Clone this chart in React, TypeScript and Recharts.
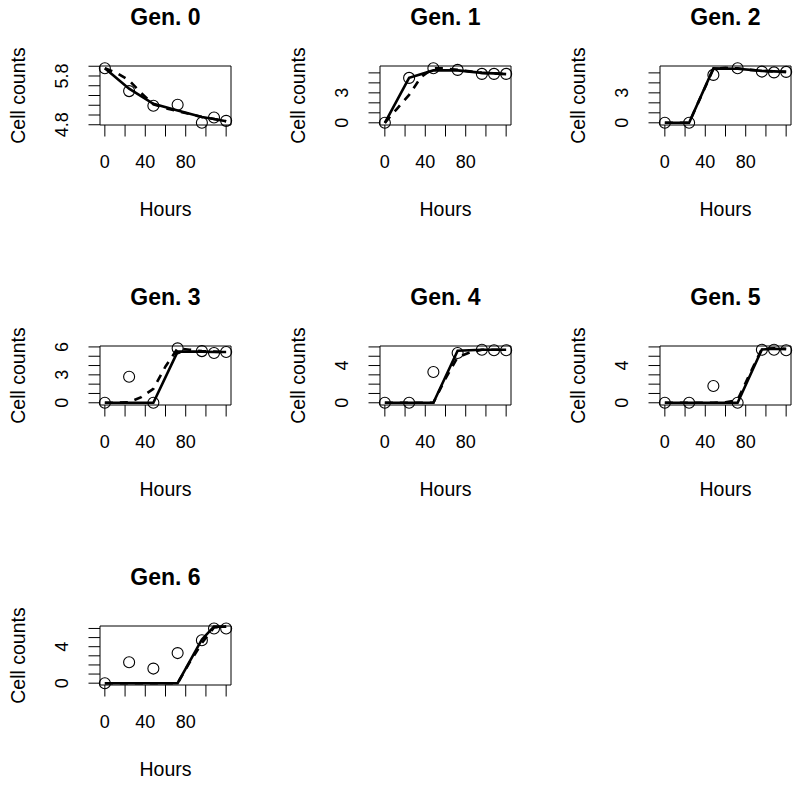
import { ComposedChart, Line, Scatter, XAxis, YAxis, ReferenceArea } from 'recharts'

// sampling times (hours)
const HOURS = [0, 24, 48, 72, 96, 108, 120]
const SIM_HOURS = [0, 12, 24, 36, 48, 60, 72, 84, 96, 108, 120]

const X_TICKS = [0, 20, 40, 60, 80, 100, 120]
const X_LABELS = [0, 40, 80]

const TITLES = ['Gen. 0', 'Gen. 1', 'Gen. 2', 'Gen. 3', 'Gen. 4', 'Gen. 5', 'Gen. 6']

// observed counts (circles), model (solid) and simulation (dashed)
const GEN0_OBS = [5.96, 5.49, 5.19, 5.21, 4.84, 4.95, 4.88]
const GEN0_MODEL = [5.96, 5.54, 5.23, 5.09, 4.96, 4.92, 4.87]
const GEN0_SIM = [5.96, 5.86, 5.71, 5.45, 5.22, 5.14, 5.08, 5.02, 4.96, 4.92, 4.87]

const GEN1_OBS = [0, 4.5, 5.47, 5.3, 4.9, 4.9, 4.9]
const GEN1_MODEL = [0, 4.5, 5.25, 5.25, 5.0, 4.95, 4.88]
const GEN1_SIM = [0, 1.4, 2.8, 4.6, 5.45, 5.45, 5.3, 5.15, 5.0, 4.95, 4.88]

const GEN2_OBS = [0, 0, 4.8, 5.47, 5.13, 5.05, 5.1]
const GEN2_MODEL = [0, 0, 5.45, 5.42, 5.2, 5.15, 5.1]
const GEN2_SIM = [0, 0, 0, 2.7, 5.4, 5.5, 5.45, 5.3, 5.2, 5.15, 5.1]

const GEN3_OBS = [0, 2.8, 0, 5.85, 5.55, 5.35, 5.45]
const GEN3_MODEL = [0, 0, 0, 5.5, 5.5, 5.45, 5.45]
const GEN3_SIM = [0, 0, 0.05, 0.6, 1.5, 3.9, 5.85, 5.7, 5.55, 5.5, 5.45]

const GEN4_OBS = [0, 0, 3.3, 5.35, 5.7, 5.65, 5.65]
const GEN4_MODEL = [0, 0, 0, 5.6, 5.7, 5.7, 5.7]
const GEN4_SIM = [0, 0, 0, 0, 0, 2.6, 4.9, 5.4, 5.7, 5.7, 5.7]

const GEN5_OBS = [0, 0, 1.8, 0, 5.7, 5.7, 5.65]
const GEN5_MODEL = [0, 0, 0, 0, 5.72, 5.8, 5.75]
const GEN5_SIM = [0, 0, 0, 0, 0, 0.05, 0.3, 3.1, 5.8, 5.85, 5.8]

const GEN6_OBS = [0, 2.3, 1.6, 3.3, 4.7, 6.0, 6.0]
const GEN6_MODEL = [0, 0, 0, 0, 4.8, 6.2, 6.2]
const GEN6_SIM = [0, 0, 0, 0, 0, 0, 0, 2.3, 4.4, 6.1, 6.2]

// y axes
const Y_TICKS_GEN0 = [4.8, 5.0, 5.2, 5.4, 5.6, 5.8, 6.0]
const Y_LABELS_GEN0 = [4.8, 5.8]
const Y_TICKS_0_5 = [0, 1, 2, 3, 4, 5]
const Y_TICKS_0_6 = [0, 1, 2, 3, 4, 5, 6]
const Y_LABELS_03 = [0, 3]
const Y_LABELS_036 = [0, 3, 6]
const Y_LABELS_04 = [0, 4]

const FONT = '"Liberation Sans", Arial, Helvetica, sans-serif'
const CELL = 280
const BOX_LEFT = 100
const BOX_TOP = 66
const BOX_W = 131
const BOX_H = 59
const Y_AXIS_W = 60
const X_AXIS_H = 60

const toRows = (xs: number[], ys: number[]) => xs.map((h, i) => ({ h, v: ys[i] }))

function XTick(props: any) {
  const { x, y, payload } = props
  if (!X_LABELS.includes(payload.value)) return <g />
  return (
    <text x={x} y={y + 31.5} textAnchor="middle" fontSize={18} fontFamily={FONT} fill="#000">
      {payload.value}
    </text>
  )
}

function renderYTick(props: any, labels: number[], digits: number) {
  const { x, y, payload } = props
  if (!labels.some((l) => Math.abs(l - payload.value) < 1e-6)) return <g />
  const bx = x - 20.5
  return (
    <text
      x={bx}
      y={y}
      transform={`rotate(-90, ${bx}, ${y})`}
      textAnchor="middle"
      fontSize={18}
      fontFamily={FONT}
      fill="#000"
    >
      {payload.value.toFixed(digits)}
    </text>
  )
}

function OpenCircle(props: any) {
  return <circle cx={props.cx} cy={props.cy} r={5.5} fill="none" stroke="#000" strokeWidth={1.1} />
}

interface PanelProps {
  idx: number
  obs: number[]
  model: number[]
  sim: number[]
  yDomain: [number, number]
  yTicks: number[]
  yLabels: number[]
  digits?: number
}

function Panel({ idx, obs, model, sim, yDomain, yTicks, yLabels, digits = 0 }: PanelProps) {
  const left = (idx % 3) * CELL
  const top = Math.floor(idx / 3) * CELL
  const cx = BOX_LEFT + BOX_W / 2
  const cy = BOX_TOP + BOX_H / 2

  return (
    <div style={{ position: 'absolute', left, top, width: CELL, height: CELL }}>
      <ComposedChart
        width={CELL}
        height={CELL}
        margin={{
          top: BOX_TOP,
          left: BOX_LEFT - Y_AXIS_W,
          right: CELL - BOX_LEFT - BOX_W,
          bottom: CELL - BOX_TOP - BOX_H - X_AXIS_H,
        }}
      >
        <XAxis
          type="number"
          dataKey="h"
          domain={[-4.8, 124.8]}
          ticks={X_TICKS}
          interval={0}
          height={X_AXIS_H}
          axisLine={false}
          tickLine={{ stroke: '#000' }}
          tickSize={11.5}
          tickMargin={0}
          tick={<XTick />}
        />
        <YAxis
          type="number"
          dataKey="v"
          domain={yDomain}
          ticks={yTicks}
          interval={0}
          width={Y_AXIS_W}
          axisLine={false}
          tickLine={{ stroke: '#000' }}
          tickSize={11.5}
          tickMargin={0}
          tick={(p: any) => renderYTick(p, yLabels, digits)}
        />
        <ReferenceArea
          x1={-4.8}
          x2={124.8}
          y1={yDomain[0]}
          y2={yDomain[1]}
          fill="none"
          fillOpacity={0}
          stroke="#000"
          strokeWidth={1}
        />
        <Scatter data={toRows(HOURS, obs)} dataKey="v" shape={OpenCircle} isAnimationActive={false} />
        <Line
          data={toRows(HOURS, model)}
          dataKey="v"
          type="linear"
          stroke="#000"
          strokeWidth={2.6}
          dot={false}
          isAnimationActive={false}
        />
        <Line
          data={toRows(SIM_HOURS, sim)}
          dataKey="v"
          type="linear"
          stroke="#000"
          strokeWidth={2.6}
          strokeDasharray="8 7"
          dot={false}
          isAnimationActive={false}
        />
      </ComposedChart>
      <svg
        width={CELL}
        height={CELL}
        style={{ position: 'absolute', left: 0, top: 0, pointerEvents: 'none' }}
        fontFamily={FONT}
      >
        <text x={cx} y={25} textAnchor="middle" fontSize={23} fontWeight="bold" fill="#000">
          {TITLES[idx]}
        </text>
        <text
          x={25}
          y={cy}
          transform={`rotate(-90, 25, ${cy})`}
          textAnchor="middle"
          fontSize={19.5}
          fill="#000"
        >
          Cell counts
        </text>
        <text x={cx} y={215.5} textAnchor="middle" fontSize={19.5} fill="#000">
          Hours
        </text>
      </svg>
    </div>
  )
}

export default function App() {
  return (
    <div
      style={{
        position: 'absolute',
        left: 0,
        top: 0,
        width: 800,
        height: 785,
        overflow: 'hidden',
        background: '#fff',
      }}
    >
      <Panel idx={0} obs={GEN0_OBS} model={GEN0_MODEL} sim={GEN0_SIM} yDomain={[4.795, 6.005]} yTicks={Y_TICKS_GEN0} yLabels={Y_LABELS_GEN0} digits={1} />
      <Panel idx={1} obs={GEN1_OBS} model={GEN1_MODEL} sim={GEN1_SIM} yDomain={[-0.22, 5.69]} yTicks={Y_TICKS_0_5} yLabels={Y_LABELS_03} />
      <Panel idx={2} obs={GEN2_OBS} model={GEN2_MODEL} sim={GEN2_SIM} yDomain={[-0.22, 5.69]} yTicks={Y_TICKS_0_5} yLabels={Y_LABELS_03} />
      <Panel idx={3} obs={GEN3_OBS} model={GEN3_MODEL} sim={GEN3_SIM} yDomain={[-0.24, 6.1]} yTicks={Y_TICKS_0_6} yLabels={Y_LABELS_036} />
      <Panel idx={4} obs={GEN4_OBS} model={GEN4_MODEL} sim={GEN4_SIM} yDomain={[-0.24, 6.1]} yTicks={Y_TICKS_0_6} yLabels={Y_LABELS_04} />
      <Panel idx={5} obs={GEN5_OBS} model={GEN5_MODEL} sim={GEN5_SIM} yDomain={[-0.24, 6.1]} yTicks={Y_TICKS_0_6} yLabels={Y_LABELS_04} />
      <Panel idx={6} obs={GEN6_OBS} model={GEN6_MODEL} sim={GEN6_SIM} yDomain={[-0.2, 6.27]} yTicks={Y_TICKS_0_6} yLabels={Y_LABELS_04} />
    </div>
  )
}
